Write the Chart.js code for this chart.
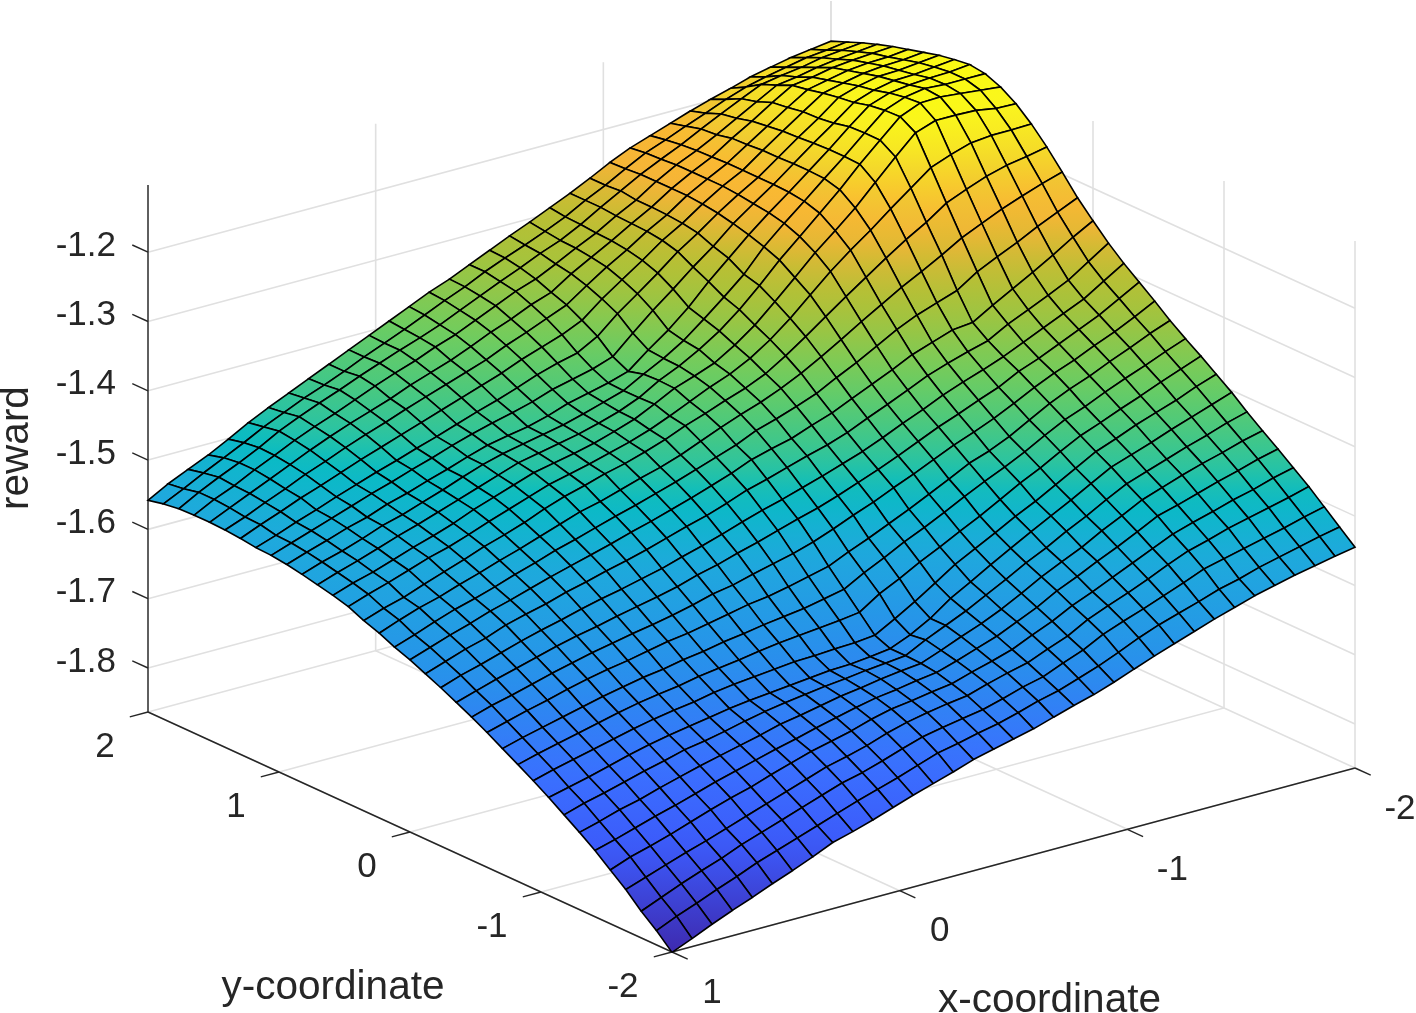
<!DOCTYPE html>
<html lang="en">
<head>
<meta charset="UTF-8">
<title>reward surface</title>
<script src="https://cdn.jsdelivr.net/npm/chart.js"></script>
<style>
    body { margin: 0; background: #fff; }
    canvas { display: block; }
</style>
</head>
<body>
<canvas id="surfaceChart" width="1416" height="1013"></canvas>
<script>
// grid of the surface, x runs along a row and y along the rows
const xValues = [1, 0.912, 0.824, 0.735, 0.647, 0.559, 0.471, 0.382, 0.294, 0.206, 0.118, 0.029, -0.059, -0.147, -0.235, -0.324, -0.412, -0.5, -0.588, -0.676, -0.765, -0.853, -0.941, -1.029, -1.118, -1.206, -1.294, -1.382, -1.471, -1.559, -1.647, -1.735, -1.824, -1.912, -2];
const yValues = [-2, -1.882, -1.765, -1.647, -1.529, -1.412, -1.294, -1.176, -1.059, -0.941, -0.824, -0.706, -0.588, -0.471, -0.353, -0.235, -0.118, 0, 0.118, 0.235, 0.353, 0.471, 0.588, 0.706, 0.824, 0.941, 1.059, 1.176, 1.294, 1.412, 1.529, 1.647, 1.765, 1.882, 2];

const rewardRows = [
[-1.864,-1.852,-1.839,-1.827,-1.816,-1.804,-1.793,-1.781,-1.768,-1.760,-1.751,-1.741,-1.731,-1.722,-1.713,-1.703,-1.696,-1.689,-1.682,-1.673,-1.664,-1.656,-1.646,-1.635,-1.624,-1.614,-1.604,-1.594,-1.585,-1.576,-1.569,-1.562,-1.556,-1.550,-1.545],
[-1.843,-1.830,-1.819,-1.807,-1.796,-1.784,-1.774,-1.764,-1.754,-1.744,-1.734,-1.725,-1.716,-1.706,-1.696,-1.690,-1.683,-1.677,-1.669,-1.660,-1.653,-1.643,-1.633,-1.621,-1.608,-1.597,-1.588,-1.579,-1.569,-1.562,-1.553,-1.546,-1.539,-1.532,-1.526],
[-1.825,-1.813,-1.801,-1.790,-1.780,-1.768,-1.758,-1.748,-1.738,-1.728,-1.718,-1.711,-1.702,-1.692,-1.683,-1.677,-1.672,-1.667,-1.659,-1.650,-1.643,-1.631,-1.620,-1.605,-1.594,-1.584,-1.573,-1.562,-1.550,-1.543,-1.536,-1.529,-1.522,-1.514,-1.507],
[-1.804,-1.794,-1.784,-1.774,-1.765,-1.755,-1.745,-1.735,-1.725,-1.715,-1.705,-1.698,-1.690,-1.680,-1.672,-1.666,-1.661,-1.657,-1.648,-1.640,-1.633,-1.621,-1.610,-1.594,-1.582,-1.571,-1.559,-1.546,-1.534,-1.526,-1.517,-1.510,-1.503,-1.496,-1.488],
[-1.786,-1.775,-1.767,-1.758,-1.748,-1.738,-1.729,-1.721,-1.711,-1.702,-1.693,-1.686,-1.679,-1.670,-1.663,-1.659,-1.654,-1.650,-1.641,-1.633,-1.624,-1.611,-1.599,-1.584,-1.572,-1.559,-1.546,-1.533,-1.520,-1.511,-1.503,-1.494,-1.487,-1.478,-1.471],
[-1.768,-1.760,-1.751,-1.742,-1.734,-1.725,-1.716,-1.708,-1.700,-1.692,-1.685,-1.677,-1.670,-1.663,-1.657,-1.653,-1.648,-1.644,-1.635,-1.625,-1.615,-1.602,-1.589,-1.573,-1.560,-1.546,-1.533,-1.519,-1.504,-1.496,-1.487,-1.478,-1.470,-1.461,-1.454],
[-1.752,-1.744,-1.735,-1.728,-1.719,-1.711,-1.703,-1.696,-1.689,-1.682,-1.674,-1.669,-1.663,-1.657,-1.653,-1.648,-1.644,-1.641,-1.630,-1.618,-1.607,-1.594,-1.579,-1.563,-1.549,-1.536,-1.520,-1.506,-1.491,-1.481,-1.471,-1.462,-1.454,-1.445,-1.438],
[-1.737,-1.728,-1.721,-1.713,-1.705,-1.698,-1.690,-1.685,-1.679,-1.672,-1.666,-1.661,-1.657,-1.653,-1.650,-1.646,-1.643,-1.640,-1.625,-1.612,-1.599,-1.584,-1.569,-1.553,-1.539,-1.523,-1.509,-1.493,-1.478,-1.468,-1.458,-1.448,-1.439,-1.429,-1.421],
[-1.722,-1.715,-1.708,-1.700,-1.692,-1.685,-1.679,-1.674,-1.669,-1.664,-1.660,-1.657,-1.654,-1.651,-1.648,-1.647,-1.644,-1.640,-1.628,-1.612,-1.591,-1.575,-1.558,-1.542,-1.526,-1.511,-1.496,-1.480,-1.464,-1.454,-1.444,-1.433,-1.423,-1.413,-1.403],
[-1.708,-1.700,-1.693,-1.686,-1.679,-1.672,-1.666,-1.661,-1.657,-1.651,-1.647,-1.644,-1.641,-1.638,-1.637,-1.635,-1.634,-1.631,-1.615,-1.598,-1.579,-1.560,-1.545,-1.530,-1.514,-1.500,-1.484,-1.468,-1.452,-1.441,-1.429,-1.419,-1.409,-1.397,-1.387],
[-1.695,-1.687,-1.680,-1.673,-1.666,-1.659,-1.653,-1.648,-1.644,-1.638,-1.634,-1.630,-1.625,-1.621,-1.618,-1.615,-1.612,-1.608,-1.589,-1.575,-1.559,-1.545,-1.530,-1.516,-1.500,-1.484,-1.470,-1.454,-1.439,-1.428,-1.416,-1.405,-1.393,-1.382,-1.371],
[-1.682,-1.674,-1.667,-1.660,-1.653,-1.646,-1.640,-1.634,-1.630,-1.624,-1.620,-1.614,-1.610,-1.605,-1.601,-1.597,-1.591,-1.585,-1.569,-1.555,-1.540,-1.527,-1.513,-1.498,-1.484,-1.471,-1.457,-1.441,-1.426,-1.415,-1.402,-1.390,-1.379,-1.367,-1.356],
[-1.669,-1.661,-1.653,-1.646,-1.638,-1.631,-1.625,-1.620,-1.614,-1.608,-1.604,-1.598,-1.592,-1.586,-1.582,-1.576,-1.569,-1.562,-1.549,-1.537,-1.524,-1.511,-1.497,-1.483,-1.468,-1.458,-1.445,-1.429,-1.413,-1.400,-1.389,-1.376,-1.364,-1.351,-1.340],
[-1.657,-1.648,-1.641,-1.633,-1.625,-1.618,-1.611,-1.605,-1.599,-1.594,-1.588,-1.581,-1.573,-1.568,-1.560,-1.553,-1.546,-1.537,-1.526,-1.514,-1.503,-1.490,-1.478,-1.465,-1.452,-1.441,-1.429,-1.415,-1.400,-1.387,-1.376,-1.363,-1.351,-1.337,-1.322],
[-1.646,-1.637,-1.628,-1.620,-1.612,-1.604,-1.597,-1.591,-1.584,-1.578,-1.572,-1.565,-1.556,-1.549,-1.540,-1.532,-1.523,-1.514,-1.506,-1.496,-1.485,-1.474,-1.462,-1.449,-1.436,-1.425,-1.413,-1.402,-1.387,-1.376,-1.363,-1.350,-1.337,-1.321,-1.305],
[-1.635,-1.625,-1.617,-1.608,-1.599,-1.591,-1.584,-1.576,-1.569,-1.563,-1.556,-1.549,-1.540,-1.532,-1.523,-1.513,-1.504,-1.496,-1.487,-1.478,-1.468,-1.458,-1.446,-1.433,-1.421,-1.408,-1.397,-1.387,-1.376,-1.363,-1.350,-1.337,-1.324,-1.306,-1.288],
[-1.625,-1.615,-1.605,-1.597,-1.586,-1.578,-1.571,-1.562,-1.555,-1.547,-1.540,-1.532,-1.523,-1.514,-1.506,-1.496,-1.485,-1.477,-1.468,-1.459,-1.451,-1.441,-1.428,-1.416,-1.403,-1.390,-1.380,-1.371,-1.363,-1.347,-1.334,-1.321,-1.307,-1.288,-1.269],
[-1.615,-1.605,-1.595,-1.586,-1.576,-1.568,-1.559,-1.550,-1.542,-1.534,-1.526,-1.517,-1.509,-1.500,-1.491,-1.481,-1.471,-1.459,-1.451,-1.444,-1.433,-1.423,-1.410,-1.397,-1.384,-1.370,-1.360,-1.350,-1.347,-1.330,-1.314,-1.298,-1.281,-1.263,-1.247],
[-1.607,-1.597,-1.586,-1.576,-1.568,-1.559,-1.549,-1.540,-1.530,-1.522,-1.513,-1.504,-1.496,-1.487,-1.478,-1.468,-1.458,-1.448,-1.435,-1.426,-1.416,-1.405,-1.390,-1.376,-1.360,-1.344,-1.331,-1.321,-1.311,-1.292,-1.278,-1.265,-1.250,-1.237,-1.224],
[-1.597,-1.586,-1.576,-1.568,-1.558,-1.549,-1.539,-1.530,-1.520,-1.510,-1.500,-1.493,-1.484,-1.475,-1.467,-1.457,-1.445,-1.433,-1.422,-1.412,-1.400,-1.386,-1.370,-1.353,-1.335,-1.318,-1.301,-1.286,-1.270,-1.253,-1.240,-1.227,-1.216,-1.206,-1.197],
[-1.589,-1.579,-1.571,-1.560,-1.550,-1.540,-1.529,-1.520,-1.510,-1.498,-1.488,-1.480,-1.471,-1.464,-1.455,-1.445,-1.433,-1.423,-1.412,-1.402,-1.389,-1.371,-1.351,-1.330,-1.309,-1.289,-1.269,-1.250,-1.233,-1.213,-1.201,-1.190,-1.182,-1.177,-1.171],
[-1.579,-1.569,-1.560,-1.550,-1.540,-1.532,-1.522,-1.511,-1.501,-1.491,-1.481,-1.474,-1.467,-1.459,-1.451,-1.441,-1.429,-1.416,-1.403,-1.392,-1.377,-1.358,-1.335,-1.309,-1.283,-1.260,-1.239,-1.216,-1.194,-1.172,-1.161,-1.152,-1.149,-1.149,-1.148],
[-1.573,-1.563,-1.555,-1.545,-1.535,-1.526,-1.516,-1.504,-1.494,-1.484,-1.474,-1.468,-1.462,-1.455,-1.446,-1.436,-1.422,-1.407,-1.397,-1.386,-1.368,-1.347,-1.321,-1.294,-1.266,-1.242,-1.217,-1.188,-1.159,-1.132,-1.122,-1.122,-1.123,-1.128,-1.129],
[-1.568,-1.558,-1.549,-1.539,-1.529,-1.520,-1.510,-1.500,-1.490,-1.480,-1.470,-1.464,-1.458,-1.452,-1.444,-1.435,-1.423,-1.406,-1.393,-1.377,-1.358,-1.335,-1.308,-1.279,-1.253,-1.227,-1.201,-1.172,-1.145,-1.119,-1.107,-1.106,-1.109,-1.112,-1.115],
[-1.563,-1.553,-1.545,-1.535,-1.524,-1.516,-1.506,-1.496,-1.485,-1.475,-1.467,-1.461,-1.455,-1.449,-1.441,-1.432,-1.423,-1.407,-1.392,-1.374,-1.351,-1.327,-1.302,-1.270,-1.244,-1.220,-1.195,-1.171,-1.145,-1.120,-1.109,-1.104,-1.106,-1.106,-1.106],
[-1.559,-1.549,-1.540,-1.530,-1.522,-1.511,-1.503,-1.493,-1.484,-1.474,-1.465,-1.459,-1.454,-1.446,-1.436,-1.429,-1.422,-1.413,-1.390,-1.369,-1.344,-1.315,-1.289,-1.263,-1.239,-1.217,-1.194,-1.171,-1.146,-1.123,-1.113,-1.109,-1.107,-1.106,-1.103],
[-1.556,-1.546,-1.536,-1.526,-1.516,-1.506,-1.497,-1.487,-1.478,-1.468,-1.459,-1.451,-1.444,-1.436,-1.426,-1.419,-1.412,-1.402,-1.376,-1.351,-1.328,-1.304,-1.282,-1.257,-1.236,-1.216,-1.194,-1.172,-1.151,-1.129,-1.119,-1.113,-1.112,-1.109,-1.106],
[-1.555,-1.545,-1.534,-1.524,-1.513,-1.503,-1.493,-1.484,-1.474,-1.465,-1.455,-1.445,-1.436,-1.426,-1.415,-1.406,-1.399,-1.383,-1.358,-1.337,-1.315,-1.292,-1.273,-1.252,-1.233,-1.216,-1.195,-1.174,-1.154,-1.132,-1.123,-1.117,-1.116,-1.113,-1.110],
[-1.552,-1.540,-1.529,-1.517,-1.507,-1.496,-1.485,-1.475,-1.465,-1.455,-1.445,-1.435,-1.425,-1.415,-1.403,-1.393,-1.383,-1.370,-1.347,-1.327,-1.307,-1.286,-1.269,-1.249,-1.231,-1.216,-1.195,-1.175,-1.155,-1.136,-1.129,-1.123,-1.120,-1.119,-1.116],
[-1.550,-1.539,-1.526,-1.514,-1.501,-1.490,-1.478,-1.467,-1.457,-1.446,-1.436,-1.426,-1.416,-1.406,-1.393,-1.382,-1.370,-1.358,-1.338,-1.319,-1.302,-1.283,-1.267,-1.247,-1.231,-1.216,-1.197,-1.178,-1.159,-1.141,-1.135,-1.129,-1.126,-1.125,-1.122],
[-1.549,-1.536,-1.523,-1.510,-1.497,-1.484,-1.472,-1.461,-1.451,-1.441,-1.429,-1.419,-1.409,-1.397,-1.384,-1.373,-1.360,-1.350,-1.331,-1.315,-1.299,-1.282,-1.266,-1.247,-1.231,-1.217,-1.198,-1.181,-1.162,-1.145,-1.141,-1.135,-1.132,-1.130,-1.128],
[-1.549,-1.534,-1.522,-1.507,-1.494,-1.480,-1.468,-1.457,-1.445,-1.433,-1.422,-1.412,-1.400,-1.390,-1.377,-1.364,-1.351,-1.341,-1.327,-1.312,-1.298,-1.281,-1.266,-1.247,-1.231,-1.218,-1.203,-1.187,-1.171,-1.155,-1.151,-1.145,-1.141,-1.138,-1.135],
[-1.550,-1.534,-1.520,-1.507,-1.493,-1.477,-1.464,-1.452,-1.441,-1.429,-1.418,-1.407,-1.397,-1.386,-1.373,-1.360,-1.347,-1.335,-1.322,-1.311,-1.296,-1.279,-1.263,-1.247,-1.233,-1.220,-1.205,-1.191,-1.177,-1.164,-1.159,-1.155,-1.149,-1.146,-1.143],
[-1.553,-1.539,-1.524,-1.510,-1.496,-1.481,-1.468,-1.455,-1.444,-1.432,-1.419,-1.407,-1.395,-1.382,-1.369,-1.357,-1.343,-1.331,-1.320,-1.308,-1.295,-1.279,-1.265,-1.249,-1.234,-1.223,-1.211,-1.200,-1.188,-1.178,-1.171,-1.165,-1.159,-1.156,-1.152],
[-1.558,-1.542,-1.529,-1.516,-1.501,-1.485,-1.471,-1.458,-1.445,-1.432,-1.419,-1.406,-1.393,-1.380,-1.367,-1.356,-1.343,-1.330,-1.317,-1.305,-1.292,-1.279,-1.265,-1.250,-1.237,-1.227,-1.217,-1.207,-1.198,-1.190,-1.181,-1.175,-1.169,-1.165,-1.161]
];

// axis limits and ticks
const xLimits = [-2, 1];
const yLimits = [-2, 2];
const zLimits = [-1.8635, -1.103];
const xTicks = [1, 0, -1, -2];
const yTicks = [2, 1, 0, -1, -2];
const zTicks = [-1.2, -1.3, -1.4, -1.5, -1.6, -1.7, -1.8];

// colormap, position between the z limits and its colour
const colorStops = [0, 0.125, 0.21, 0.31, 0.42, 0.49, 0.516, 0.56, 0.62, 0.70, 0.755, 0.81, 0.85, 0.877, 0.91, 0.966, 1];
const colorValues = [[62,42,175],[60,90,250],[58,112,255],[40,145,235],[30,170,220],[8,188,195],[40,195,165],[70,200,130],[110,205,95],[165,195,60],[190,190,50],[245,180,55],[250,185,50],[240,200,50],[245,220,40],[250,245,30],[250,250,20]];

function colorFor(z) {
    const t = Math.min(1, Math.max(0, (z - zLimits[0]) / (zLimits[1] - zLimits[0])));
    let k = 0;
    while (k < colorStops.length - 2 && t > colorStops[k + 1]) k++;
    const f = (t - colorStops[k]) / (colorStops[k + 1] - colorStops[k]);
    const c = [0, 1, 2].map(n => Math.round(colorValues[k][n] + (colorValues[k + 1][n] - colorValues[k][n]) * f));
    return `rgb(${c[0]},${c[1]},${c[2]})`;
}

// fixed orthographic view of the box, the x and y scales below run in canvas pixels
function project(x, y, z) {
    return {
        x: 672 + (1 - x) * 227.67 - (y + 2) * 131,
        y: 952 - (1 - x) * 61.33 - (y + 2) * 60 - (z - zLimits[0]) * 693
    };
}

function lineSet(points, color, width) {
    return { data: points, showLine: true, borderColor: color, borderWidth: width, pointRadius: 0, tension: 0, fill: false };
}

const datasets = [];

// first dataset is painted last, so nearest cells go first
for (let j = 0; j < yValues.length - 1; j++) {
    for (let i = 0; i < xValues.length - 1; i++) {
        const corners = [[i, j], [i + 1, j], [i + 1, j + 1], [i, j + 1], [i, j]];
        const set = lineSet(corners.map(c => project(xValues[c[0]], yValues[c[1]], rewardRows[c[1]][c[0]])), '#000', 1.6);
        set.cellRewards = corners.map(c => rewardRows[c[1]][c[0]]);
        datasets.push(set);
    }
}

// axes
const axisColor = '#262626';
const [zLow, zHigh] = zLimits;
datasets.push(lineSet([project(1, 2, zLow), project(1, 2, zHigh)], axisColor, 1.4));
datasets.push(lineSet([project(1, 2, zLow), project(1, -2, zLow)], axisColor, 1.4));
datasets.push(lineSet([project(1, -2, zLow), project(-2, -2, zLow)], axisColor, 1.4));
zTicks.forEach(z => {
    datasets.push(lineSet([project(1, 2, z), project(1, 2.12, z)], axisColor, 1.4));
});
xTicks.forEach(x => {
    datasets.push(lineSet([project(x, -2, zLow), project(x, -2.12, zLow)], axisColor, 1.4));
});
yTicks.forEach(y => {
    datasets.push(lineSet([project(1, y, zLow), project(1.08, y, zLow)], axisColor, 1.4));
});

// grid on the floor and the two back walls
const gridColor = '#e0e0e0';
xTicks.forEach(x => {
    datasets.push(lineSet([project(x, -2, zLow), project(x, 2, zLow), project(x, 2, zHigh)], gridColor, 1.6));
});
yTicks.forEach(y => {
    datasets.push(lineSet([project(1, y, zLow), project(-2, y, zLow), project(-2, y, zHigh)], gridColor, 1.6));
});
zTicks.forEach(z => {
    datasets.push(lineSet([project(1, 2, z), project(-2, 2, z), project(-2, -2, z)], gridColor, 1.6));
});

// fills a cell just before its outline, colour runs from its highest to its lowest corner on screen
const cellFill = {
    id: 'cellFill',
    beforeDatasetDraw(chart, args) {
        const rewards = chart.data.datasets[args.index].cellRewards;
        if (!rewards) return;
        const pts = args.meta.data;
        const ctx = chart.ctx;
        let top = 0, bottom = 0;
        pts.forEach((p, n) => {
            if (p.y < pts[top].y) top = n;
            if (p.y > pts[bottom].y) bottom = n;
        });
        const grad = ctx.createLinearGradient(0, pts[top].y, 0, pts[bottom].y);
        grad.addColorStop(0, colorFor(rewards[top]));
        grad.addColorStop(1, colorFor(rewards[bottom]));
        ctx.save();
        ctx.beginPath();
        pts.forEach((p, n) => n ? ctx.lineTo(p.x, p.y) : ctx.moveTo(p.x, p.y));
        ctx.closePath();
        ctx.fillStyle = grad;
        ctx.fill();
        ctx.restore();
    }
};

// tick labels and axis titles, placed through the same scales
const boxLabels = {
    id: 'boxLabels',
    afterDraw(chart) {
        const ctx = chart.ctx;
        const sx = chart.scales.x, sy = chart.scales.y;
        const put = (text, pos, dx, dy, align, size) => {
            ctx.font = `${size}px "Liberation Sans", Arial, sans-serif`;
            ctx.textAlign = align;
            ctx.textBaseline = 'middle';
            ctx.fillText(text, sx.getPixelForValue(pos.x) + dx, sy.getPixelForValue(pos.y) + dy);
        };
        ctx.save();
        ctx.fillStyle = '#262626';
        zTicks.forEach(z => put(z.toFixed(1), project(1, 2, z), -32, -6, 'right', 35));
        yTicks.forEach(y => put(String(y), project(1, y, zLow), y < 0 ? -49 : -43, 35, 'center', 35));
        xTicks.forEach(x => put(String(x), project(x, -2, zLow), x < 0 ? 45 : 40, 41, 'center', 35));
        put('y-coordinate', project(1, -1, zLow), -208, 96, 'center', 40.5);
        put('x-coordinate', project(-0.5, -2, zLow), 36, 141, 'center', 40.5);
        ctx.translate(sx.getPixelForValue(17), sy.getPixelForValue(448));
        ctx.rotate(-Math.PI / 2);
        ctx.font = '40.5px "Liberation Sans", Arial, sans-serif';
        ctx.textAlign = 'center';
        ctx.fillText('reward', 0, 0);
        ctx.restore();
    }
};

new Chart(document.getElementById('surfaceChart').getContext('2d'), {
    type: 'scatter',
    data: { datasets: datasets },
    plugins: [cellFill, boxLabels],
    options: {
        responsive: false,
        animation: false,
        events: [],
        layout: { padding: 0 },
        plugins: { legend: { display: false }, tooltip: { enabled: false } },
        scales: {
            x: { type: 'linear', display: false, min: 0, max: 1416 },
            y: { type: 'linear', display: false, min: 0, max: 1013, reverse: true }
        }
    }
});
</script>
</body>
</html>
